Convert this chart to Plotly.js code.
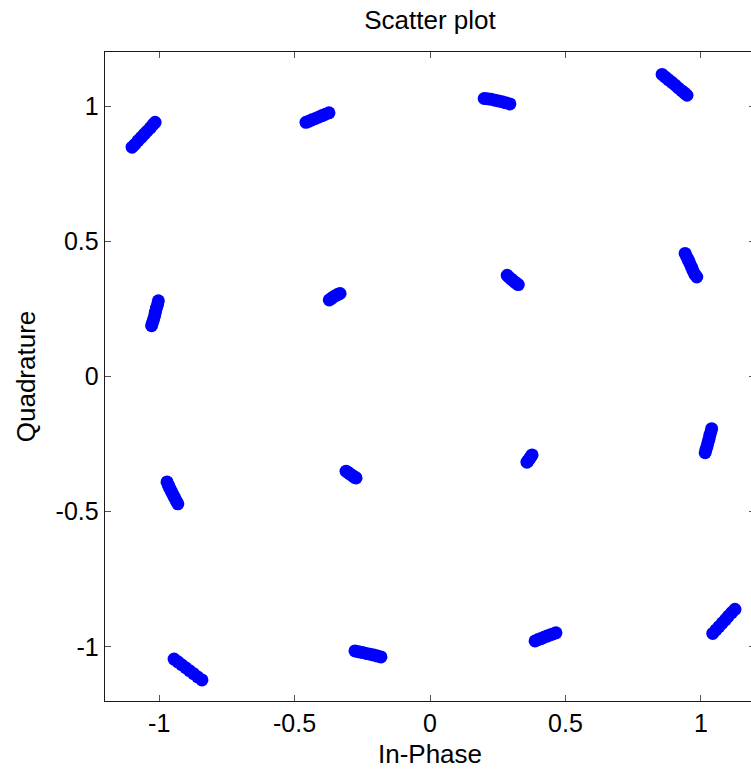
<!DOCTYPE html>
<html>
<head>
<meta charset="utf-8">
<script src="https://cdn.plot.ly/plotly-3.0.1.min.js"></script>
<style>
html, body { margin: 0; padding: 0; overflow: hidden; background: #fff; }
#chart { width: 760px; height: 776px; }
</style>
</head>
<body>
<div id="chart"></div>
<script>
// In-phase / quadrature samples (grouped by constellation point)
const inPhase = [
  -1.100, -1.090, -1.078, -1.066, -1.055, -1.045, -1.032, -1.022, -1.015,
  -0.458, -0.447, -0.436, -0.423, -0.410, -0.398, -0.386, -0.373,
   0.200,  0.212,  0.226,  0.240,  0.253,  0.266,  0.280,  0.295,
   0.857,  0.868,  0.880,  0.893,  0.906,  0.918,  0.930,  0.940,  0.949,
  -1.003, -1.006, -1.010, -1.014, -1.017, -1.021, -1.025, -1.028,
  -0.372, -0.365, -0.357, -0.349, -0.340, -0.332,
   0.285,  0.292,  0.299,  0.306,  0.313,  0.320,  0.326,
   0.942,  0.948,  0.954,  0.960,  0.966,  0.971,  0.978,  0.985,
   1.040,  1.037,  1.033,  1.030,  1.026,  1.023,  1.019,  1.016,
  -0.971, -0.966, -0.961, -0.955, -0.949, -0.943, -0.937, -0.931,
  -0.310, -0.304, -0.297, -0.290, -0.283, -0.277, -0.273,
   0.358,  0.362,  0.366,  0.370,  0.374,  0.377,
  -0.945, -0.931, -0.917, -0.902, -0.888, -0.873, -0.858, -0.842,
  -0.277, -0.263, -0.249, -0.235, -0.221, -0.207, -0.194, -0.181,
   0.388,  0.399,  0.410,  0.421,  0.432,  0.443,  0.454,  0.465,
   1.044,  1.056,  1.067,  1.079,  1.091,  1.102,  1.114,  1.126
];
const quadrature = [
   0.848,  0.858,  0.872,  0.884,  0.896,  0.907,  0.920,  0.932,  0.940,
   0.940,  0.944,  0.949,  0.954,  0.960,  0.965,  0.970,  0.975,
   1.028,  1.027,  1.025,  1.022,  1.019,  1.016,  1.012,  1.008,
   1.117,  1.108,  1.098,  1.088,  1.077,  1.066,  1.056,  1.048,  1.040,
   0.280,  0.266,  0.253,  0.238,  0.224,  0.210,  0.198,  0.188,
   0.283,  0.288,  0.294,  0.299,  0.304,  0.307,
   0.374,  0.367,  0.361,  0.355,  0.349,  0.344,  0.340,
   0.455,  0.442,  0.430,  0.417,  0.404,  0.391,  0.378,  0.368,
  -0.193, -0.205, -0.218, -0.232, -0.245, -0.258, -0.270, -0.282,
  -0.390, -0.402, -0.413, -0.425, -0.437, -0.448, -0.460, -0.471,
  -0.350, -0.354, -0.359, -0.364, -0.369, -0.373, -0.375,
  -0.317, -0.312, -0.306, -0.300, -0.294, -0.290,
  -1.045, -1.055, -1.066, -1.077, -1.088, -1.099, -1.111, -1.122,
  -1.015, -1.018, -1.021, -1.024, -1.027, -1.030, -1.034, -1.037,
  -0.978, -0.973, -0.969, -0.964, -0.960, -0.956, -0.952, -0.948,
  -0.950, -0.937, -0.925, -0.912, -0.899, -0.886, -0.873, -0.861
];
const tickVals = [-1, -0.5, 0, 0.5, 1];
const tickText = ['-1', '-0.5', '0', '0.5', '1'];

const family = 'Liberation Sans, Arial, sans-serif';
const tickFont = { family: family, size: 25, color: '#000' };
const labelFont = { family: family, size: 26, color: '#000' };

const trace = {
  type: 'scatter',
  mode: 'markers',
  x: inPhase,
  y: quadrature,
  marker: { color: '#0000ff', size: 13, line: { width: 0 } },
  hoverinfo: 'skip'
};

const axisCommon = {
  range: [-1.2, 1.2],
  tickmode: 'array',
  tickvals: tickVals,
  ticktext: tickText,
  ticks: 'inside',
  ticklen: 6,
  tickwidth: 1,
  tickcolor: '#555',
  showline: true,
  linecolor: '#1a1a1a',
  linewidth: 1.3,
  mirror: 'ticks',
  showgrid: false,
  zeroline: false,
  tickfont: tickFont
};

const layout = {
  width: 760,
  height: 776,
  margin: { l: 105, r: 5, t: 52, b: 75 },
  paper_bgcolor: '#fff',
  plot_bgcolor: '#fff',
  showlegend: false,
  font: labelFont,
  title: { text: 'Scatter plot', font: labelFont, xref: 'paper', x: 0.5, xanchor: 'center', y: 0.974, yanchor: 'middle' },
  xaxis: Object.assign({}, axisCommon, {
    title: { text: 'In-Phase', font: labelFont, standoff: 8 }
  }),
  yaxis: Object.assign({}, axisCommon, {
    title: { text: 'Quadrature', font: labelFont, standoff: 12 }
  })
};

Plotly.newPlot('chart', [trace], layout, { staticPlot: true, displayModeBar: false });
</script>
</body>
</html>
